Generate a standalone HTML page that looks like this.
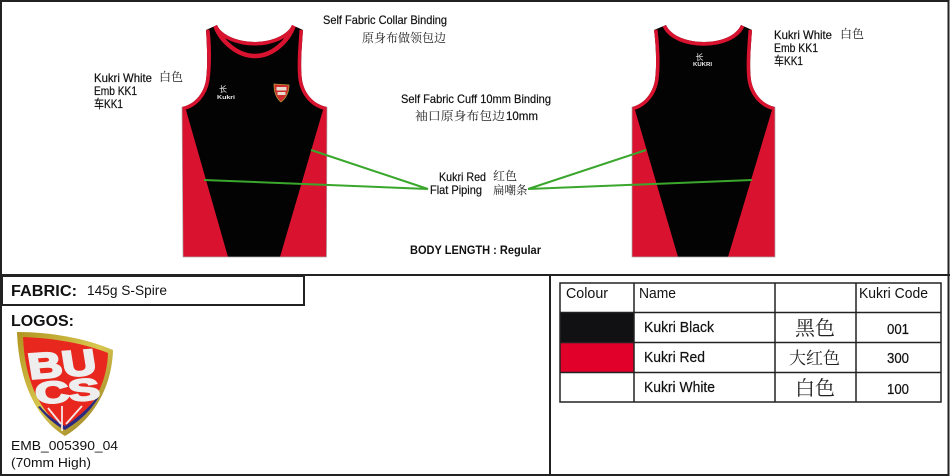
<!DOCTYPE html>
<html><head><meta charset="utf-8"><style>
html,body{margin:0;padding:0;background:#fff;width:950px;height:476px;overflow:hidden}
svg{display:block}
text{font-family:"Liberation Sans","Noto Sans CJK SC",sans-serif;fill:#111}
.l{stroke:#111;stroke-width:.2}
.c{font-family:"Noto Serif CJK SC","Noto Sans CJK SC",serif;fill:#222}
</style></head><body>
<svg width="950" height="476" viewBox="0 0 950 476" xmlns="http://www.w3.org/2000/svg">
<defs>
<linearGradient id="g" x1="0" y1="0" x2="1" y2="1"><stop offset="0" stop-color="#b09420"/><stop offset=".5" stop-color="#d8c850"/><stop offset="1" stop-color="#8a6a14"/></linearGradient>
<clipPath id="f"><path d="M217,25 C221,35 238,42 255,42 C271,42 288,35 292,25 L303,30 C302,45 300,65 302,80 C304,92 312,104 327,107 L326.500,257 L183,257 L182,107 C196,104 204,92 206,80 C208,65 207,45 206,30 Z"/></clipPath>
<clipPath id="b"><path d="M666,25 C671,36 687,42 704,42 C721,42 736,36 741,25 L752,30 C751,45 749,65 751,80 C753,92 761,104 775,107 L775,257 L632,257 L632,107 C645,104 653,92 655,80 C657,65 656,45 654,30 Z"/></clipPath>
</defs>
<rect width="950" height="476" fill="#fff"/>

<!-- FRONT VEST -->
<g clip-path="url(#f)">
<rect x="178" y="20" width="154" height="240" fill="#030303"/>
<path d="M178,105 L186,110 L228,257 L178,260 Z" fill="#d9132f"/>
<path d="M331,105 L323,110 L280,257 L331,260 Z" fill="#d9132f"/>
<path d="M217,25 C221,35 238,42 255,42 C271,42 288,35 292,25" fill="none" stroke="#d9132f" stroke-width="7"/>
<path d="M215,25 C221,42 238,56 255,56 C272,56 288,42 294,25" fill="none" stroke="#d9132f" stroke-width="4.500"/>
<path d="M206,30 C208,45 208,65 206,80 C204,92 196,104 182,107" fill="none" stroke="#d9132f" stroke-width="7"/>
<path d="M303,30 C302,45 300,65 302,80 C304,92 312,104 327,107" fill="none" stroke="#d9132f" stroke-width="7"/>
</g>
<path d="M182,107 L183,257 L326.500,257 L327,107" fill="none" stroke="#aaa" stroke-width=".7"/>
<text x="219" y="92" font-size="8" style="fill:#eee">长</text>
<text x="217" y="99" font-size="5.500" font-weight="bold" style="fill:#eee" textLength="18" lengthAdjust="spacingAndGlyphs">Kukri</text>
<path d="M274,84 L289,85 C289,92 286,98 281,102 C276,98 274,92 274,84 Z" fill="#cf2b2b" stroke="#b89a3a" stroke-width=".8"/>
<rect x="276.500" y="87" width="10" height="3.500" fill="#e8dcd0"/><rect x="277.500" y="92" width="8" height="3" fill="#e8dcd0"/>

<!-- BACK VEST -->
<g clip-path="url(#b)">
<rect x="628" y="20" width="152" height="240" fill="#030303"/>
<path d="M628,105 L635,110 L678,257 L628,260 Z" fill="#d9132f"/>
<path d="M780,105 L772,110 L728,257 L780,260 Z" fill="#d9132f"/>
<path d="M666,25 C671,36 687,42 704,42 C721,42 736,36 741,25" fill="none" stroke="#d9132f" stroke-width="7.500"/>
<path d="M654,30 C656,45 657,65 655,80 C653,92 645,104 632,107" fill="none" stroke="#d9132f" stroke-width="7"/>
<path d="M752,30 C751,45 749,65 751,80 C753,92 761,104 775,107" fill="none" stroke="#d9132f" stroke-width="7"/>
</g>
<path d="M632,107 V257 H775 V107" fill="none" stroke="#aaa" stroke-width=".7"/>
<text x="695.500" y="60" font-size="8" style="fill:#eee">长</text>
<text x="693" y="66" font-size="5.500" font-weight="bold" style="fill:#eee" textLength="19" lengthAdjust="spacingAndGlyphs">KUKRI</text>

<!-- GREEN LINES -->
<g stroke="#3aa72c" stroke-width="2" fill="none">
<path d="M204,180 L428,189 M311,150 L428,189 M528,189 L752,180 M528,189 L646,150"/>
</g>

<!-- DIAGRAM LABELS -->
<g font-size="12">
<text class="l" x="323" y="24" textLength="124" lengthAdjust="spacingAndGlyphs">Self Fabric Collar Binding</text>
<text x="362" y="42" class="c" font-size="12" textLength="84" lengthAdjust="spacingAndGlyphs">原身布做领包边</text>
<text class="l" x="94" y="82" textLength="58" lengthAdjust="spacingAndGlyphs">Kukri White</text>
<text x="159" y="81" class="c" font-size="12">白色</text>
<text class="l" x="94" y="95" textLength="43" lengthAdjust="spacingAndGlyphs">Emb KK1</text>
<text class="l" x="94" y="108" textLength="29" lengthAdjust="spacingAndGlyphs">车KK1</text>
<text class="l" x="774" y="39" textLength="58" lengthAdjust="spacingAndGlyphs">Kukri White</text>
<text x="840" y="38" class="c" font-size="12">白色</text>
<text class="l" x="774" y="52" textLength="44" lengthAdjust="spacingAndGlyphs">Emb KK1</text>
<text class="l" x="774" y="65" textLength="29" lengthAdjust="spacingAndGlyphs">车KK1</text>
<text class="l" x="401" y="103" textLength="150" lengthAdjust="spacingAndGlyphs">Self Fabric Cuff 10mm Binding</text>
<text x="415" y="120" class="c" font-size="12" textLength="90" lengthAdjust="spacingAndGlyphs">袖口原身布包边</text>
<text class="l" x="506" y="120" textLength="32" lengthAdjust="spacingAndGlyphs">10mm</text>
<text class="l" x="439" y="181" textLength="47" lengthAdjust="spacingAndGlyphs">Kukri Red</text>
<text x="493" y="180" class="c" font-size="12">红色</text>
<text class="l" x="430" y="194" textLength="52" lengthAdjust="spacingAndGlyphs">Flat Piping</text>
<text x="493" y="194" class="c" font-size="11.500">扁嘲条</text>
<text x="410" y="254" font-size="11.500" font-weight="bold" textLength="131" lengthAdjust="spacingAndGlyphs">BODY LENGTH : Regular</text>
</g>

<!-- FRAME -->
<g fill="none" stroke="#222">
<rect x="1" y="1" width="947.500" height="474" stroke-width="2"/>
<path d="M0,275 H950" stroke-width="2"/>
<path d="M550,275 V476" stroke-width="2"/>
<rect x="2" y="276" width="302" height="29" stroke-width="2"/>
</g>

<!-- FABRIC / LOGOS -->
<text x="11" y="296" font-size="16" font-weight="bold" textLength="66" lengthAdjust="spacingAndGlyphs">FABRIC:</text>
<text x="87" y="295" font-size="13.500" textLength="80" lengthAdjust="spacingAndGlyphs">145g S-Spire</text>
<text x="11" y="326" font-size="16" font-weight="bold" textLength="63" lengthAdjust="spacingAndGlyphs">LOGOS:</text>

<path d="M17,332 C50,332 85,338 113,350 C112,385 95,418 65,436 C38,420 19,385 17,332 Z" fill="url(#g)"/>
<path d="M23,337 C52,338 83,343 108,353 C107,385 91,412 65,430 C42,413 25,385 23,337 Z" fill="#e8281e"/>
<path d="M38,407 C46,417 55,425 65,430 C78,422 90,412 99,397 L97,397 C88,409 76,419 65,426 C55,421 46,414 40,406 Z" fill="#2a2a80"/>
<path d="M62,406 V431 M48,408 L61,424 M82,406 L66,424" stroke="#f4e8e4" stroke-width="1.800" fill="none"/>
<text x="0" y="0" transform="matrix(1,-.07,.16,1,30,379)" font-size="36" font-weight="bold" style="fill:#eee;stroke:#eee;stroke-width:2;stroke-linejoin:miter" textLength="68" lengthAdjust="spacingAndGlyphs">BU</text>
<text x="0" y="0" transform="matrix(1,-.08,.16,1,37,404)" font-size="30" font-weight="bold" style="fill:#eee;stroke:#eee;stroke-width:2;stroke-linejoin:miter" textLength="64" lengthAdjust="spacingAndGlyphs">CS</text>

<text x="11" y="450" font-size="13" textLength="107" lengthAdjust="spacingAndGlyphs">EMB_005390_04</text>
<text x="11" y="467" font-size="13" textLength="80" lengthAdjust="spacingAndGlyphs">(70mm High)</text>

<!-- TABLE -->
<rect x="560" y="312" width="74" height="30" fill="#111012"/>
<rect x="560" y="343" width="74" height="29" fill="#e0002a"/>
<g stroke="#222" fill="none" stroke-width="1.500">
<rect x="560" y="283" width="381" height="119"/>
<path d="M560,312.500 H941 M560,342.500 H941 M560,372.500 H941 M634,283 V402 M775,283 V402 M856,283 V402"/>
</g>
<g font-size="14.500">
<text x="566" y="298" fill="#333" textLength="42" lengthAdjust="spacingAndGlyphs">Colour</text>
<text x="639" y="298" textLength="37" lengthAdjust="spacingAndGlyphs">Name</text>
<text x="859" y="298" textLength="69" lengthAdjust="spacingAndGlyphs">Kukri Code</text>
<text class="l" x="644" y="332" textLength="70" lengthAdjust="spacingAndGlyphs">Kukri Black</text>
<text class="l" x="644" y="362" textLength="61" lengthAdjust="spacingAndGlyphs">Kukri Red</text>
<text class="l" x="644" y="392" textLength="71" lengthAdjust="spacingAndGlyphs">Kukri White</text>
<text class="l" x="887" y="334" textLength="22" lengthAdjust="spacingAndGlyphs">001</text>
<text class="l" x="887" y="363" textLength="22" lengthAdjust="spacingAndGlyphs">300</text>
<text class="l" x="887" y="394" textLength="22" lengthAdjust="spacingAndGlyphs">100</text>
</g>
<text x="795" y="335" class="c" font-size="20">黑色</text>
<text x="789" y="364" class="c" font-size="17">大红色</text>
<text x="795" y="395" class="c" font-size="20">白色</text>
</svg>
</body></html>
